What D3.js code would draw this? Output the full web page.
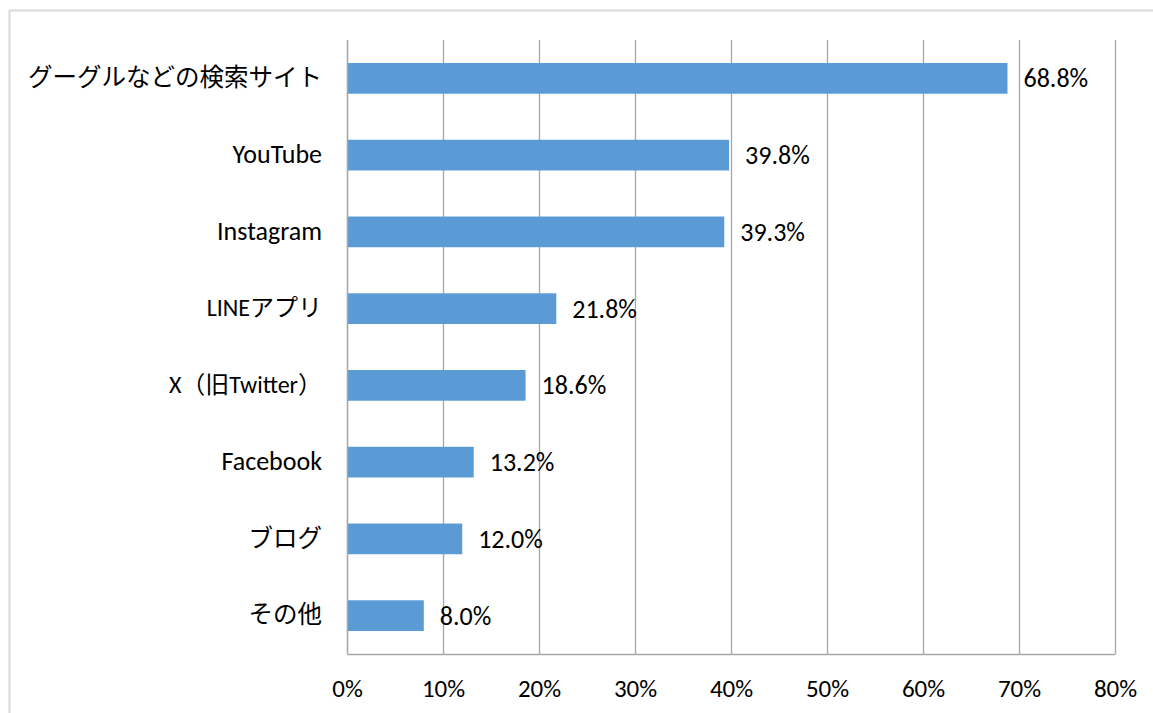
<!DOCTYPE html>
<html>
<head>
<meta charset="utf-8">
<script src="https://cdn.jsdelivr.net/npm/d3@7"></script>
<style>
  body { margin: 0; background: #fff; }
  svg text { font-family: Carlito, Lato, "Noto Sans CJK JP", sans-serif; fill: #000; }
</style>
</head>
<body>
<svg id="chart" width="1153" height="713"></svg>
<script>
const categories = [
  "グーグルなどの検索サイト",
  "YouTube",
  "Instagram",
  "LINEアプリ",
  "X（旧Twitter）",
  "Facebook",
  "ブログ",
  "その他"
];
const values = [68.8, 39.8, 39.3, 21.8, 18.6, 13.2, 12.0, 8.0];
const tickValues = [0, 10, 20, 30, 40, 50, 60, 70, 80];

const svg = d3.select("#chart");

// outer frame
svg.append("rect")
  .attr("x", 9.5)
  .attr("y", 10.5)
  .attr("width", 1200)
  .attr("height", 800)
  .attr("fill", "none")
  .attr("stroke", "#d9d9d9")
  .attr("stroke-width", 2);

const plotLeft = 347, plotRight = 1115, plotTop = 40, plotBottom = 654;

const x = d3.scaleLinear().domain([0, 80]).range([plotLeft, plotRight]);
const y = d3.scaleBand()
  .domain(categories)
  .range([plotTop, plotBottom])
  .paddingInner(0.6)
  .paddingOuter(0.3);

// x axis with gridlines
const xAxis = svg.append("g")
  .attr("transform", `translate(0,${plotBottom})`)
  .call(
    d3.axisBottom(x)
      .tickValues(tickValues)
      .tickSize(-(plotBottom - plotTop))
      .tickSizeOuter(0)
      .tickPadding(25)
      .tickFormat((d) => d + "%")
  );
xAxis.selectAll("line").attr("stroke", "#a6a6a6").attr("stroke-width", 1.3);
xAxis.select(".domain").attr("stroke", "#a6a6a6").attr("stroke-width", 1.3);
xAxis.selectAll("text").attr("font-size", "25px").style("font-family", null);

// bars
svg.selectAll("rect.bar")
  .data(values)
  .enter()
  .append("rect")
  .attr("class", "bar")
  .attr("x", x(0))
  .attr("y", (d, i) => y(categories[i]))
  .attr("width", (d) => x(d) - x(0))
  .attr("height", y.bandwidth())
  .attr("fill", "#5b9bd5");

// y axis
const yAxis = svg.append("g")
  .attr("transform", `translate(${plotLeft},0)`)
  .call(d3.axisLeft(y).tickSize(0).tickSizeOuter(0).tickPadding(25));
yAxis.select(".domain").attr("stroke", "#a6a6a6").attr("stroke-width", 1.3);
yAxis.selectAll("text")
  .attr("font-size", (d) => {
    if (/^[\x00-\x7f]+$/.test(d)) return "26px"; // latin only
    if (/^[A-Za-z]/.test(d)) return "24px"; // mixed
    return "24.5px";
  })
  .style("font-family", null);

// value labels
svg.selectAll("text.val")
  .data(values)
  .enter()
  .append("text")
  .attr("class", "val")
  .attr("x", (d) => x(d) + 16)
  .attr("y", (d, i) => y(categories[i]) + y.bandwidth() / 2)
  .attr("dy", "0.35em")
  .attr("font-size", "26px")
  .text((d) => d.toFixed(1) + "%");
</script>
</body>
</html>
